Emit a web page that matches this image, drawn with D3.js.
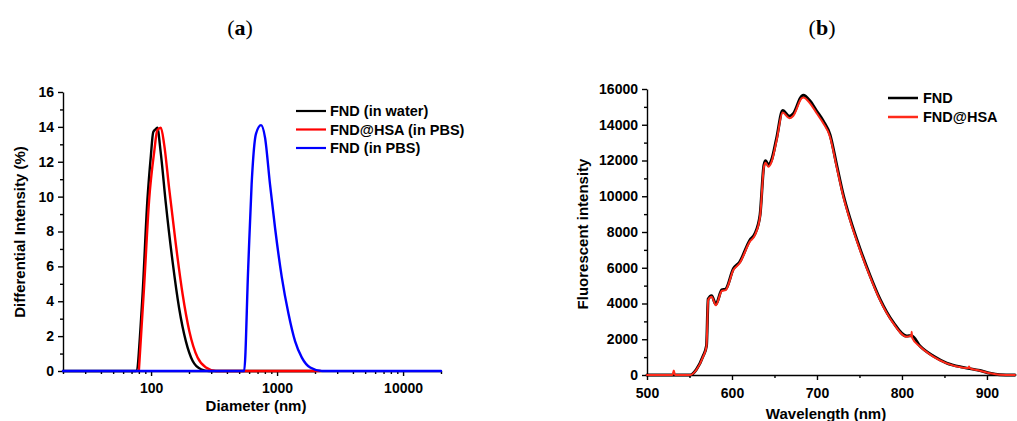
<!DOCTYPE html>
<html>
<head>
<meta charset="utf-8">
<script src="https://cdn.jsdelivr.net/npm/d3@7"></script>
<style>
  body { margin: 0; background: #fff; }
  svg { display: block; }
  .axis path, .axis line { stroke: #000; stroke-width: 1.4; }
  .axis text { font-family: "Liberation Sans", Arial, sans-serif; font-weight: bold; font-size: 14px; fill: #000; }
  .axis-label { font-family: "Liberation Sans", Arial, sans-serif; font-weight: bold; font-size: 15px; fill: #000; }
  .legend-label { font-family: "Liberation Sans", Arial, sans-serif; font-weight: bold; font-size: 14.5px; fill: #000; }
  .panel-title { font-family: "Liberation Serif", "Times New Roman", serif; font-size: 22px; fill: #000; }
  .curve { fill: none; stroke-linejoin: round; stroke-linecap: round; }
</style>
</head>
<body>
<svg id="chart" width="1017" height="421"></svg>
<script>
// ── (a) particle size distribution: [diameter nm, differential intensity %] ──
const fndWater = [
  [20, 0], [76, 0], [85, 4.0], [93.5, 9.8], [99.5, 12.3], [104, 13.7], [108, 13.85], [112, 13.95],
  [119, 12.6], [131, 9.6], [148, 6.3], [167, 3.6], [189, 1.7], [214, 0.57],
  [249, 0.1], [289, 0], [2000, 0]
];
const fndHsaPbs = [
  [80, 0], [88, 4.8], [96.5, 9.8], [106, 12.6], [112, 13.8], [119.5, 13.95],
  [127, 13.0], [139, 10.5], [157, 7.3], [178, 4.4], [201, 2.3], [234, 0.77],
  [273, 0.2], [327, 0], [2200, 0]
];
const fndPbs = [
  [20, 0], [548, 0], [590, 5.9], [628, 10.7], [680, 13.6], [746, 14.1], [802, 13.4],
  [879, 10.7], [964, 8.2], [1089, 5.4], [1231, 3.3], [1391, 1.7], [1573, 0.77],
  [1833, 0.2], [2270, 0], [20000, 0]
];
const aSeries = ['FND (in water)', 'FND@HSA (in PBS)', 'FND (in PBS)'];
const aColors = ['#000000', '#ff0000', '#0000ff'];
const aXTicks = [100, 1000, 10000];
const aYTicks = [0, 2, 4, 6, 8, 10, 12, 14, 16];

// ── (b) fluorescence spectra: [wavelength nm, intensity] ──
const fndSpec = [
  [500, 0], [530, 0], [551, 0], [558, 300], [566, 1060], [570, 1640], [572, 4250],
  [576, 4440], [581, 3960], [588, 4760], [592.6, 4810], [601.6, 5940], [609, 6320],
  [621, 7540], [627, 7910], [633, 8950], [637.6, 11750], [639.6, 11980], [642.7, 11750],
  [646.7, 12050], [652.6, 13270], [659.6, 14800], [667.5, 14480], [672, 14610],
  [682, 15600], [684, 15650], [691.8, 15330], [699.6, 14770], [707.4, 14210],
  [715.3, 13450], [723.1, 11760], [731, 10070], [738.8, 8760], [750.6, 7070],
  [762.4, 5570], [774, 4260], [789.8, 2940], [805.5, 2180], [811.4, 2200],
  [821.2, 1620], [836.8, 1060], [852.6, 670], [872.2, 425], [891.8, 250],
  [903.5, 100], [915, 20], [933, 0]
];
const fndHsaSpec = [
  [500, 0], [530, 0], [531.5, 250], [533, 0], [551, 0], [558, 280], [566, 1020],
  [570, 1600], [572, 4200], [576, 4380], [581, 3900], [588, 4700], [592.6, 4750],
  [601.6, 5875], [609, 6250], [621, 7460], [627, 7830], [633, 8860], [637.6, 11650],
  [639.6, 11880], [642.7, 11650], [646.7, 11940], [652.6, 13150], [659.6, 14680],
  [667.5, 14360], [672, 14490], [682, 15480], [684, 15530], [691.8, 15200],
  [699.6, 14640], [707.4, 14080], [715.3, 13330], [723.1, 11650], [731, 9970],
  [738.8, 8670], [750.6, 6990], [762.4, 5500], [774, 4200], [789.8, 2890],
  [805.5, 2140], [811, 2200], [811.4, 2420], [812, 2080], [821.2, 1590], [836.8, 1030],
  [852.6, 650], [872.2, 410], [878, 390], [879, 470], [880, 370], [891.8, 240],
  [903.5, 95], [915, 15], [933, 0]
];
const bSeries = ['FND', 'FND@HSA'];
const bColors = ['#000000', '#ff2a1a'];
const bXTicks = [500, 600, 700, 800, 900];
const bYTicks = [0, 2000, 4000, 6000, 8000, 10000, 12000, 14000, 16000];

const svg = d3.select('#chart');

// panel titles
svg.append('text').attr('class', 'panel-title').attr('x', 240).attr('y', 35)
  .attr('text-anchor', 'middle')
  .html('(<tspan font-weight="bold">a</tspan>)');
svg.append('text').attr('class', 'panel-title').attr('x', 822).attr('y', 35)
  .attr('text-anchor', 'middle')
  .html('(<tspan font-weight="bold">b</tspan>)');

// ── panel (a) ──
const xa = d3.scaleLog().domain([20, 20000]).range([63, 441]);
const ya = d3.scaleLinear().domain([0, 16]).range([371, 92]);

const ga = svg.append('g');

ga.append('g').attr('class', 'axis')
  .attr('transform', 'translate(0, 371)')
  .call(d3.axisBottom(xa).tickValues(xa.ticks().filter(v => !aXTicks.includes(v))).tickSize(3).tickFormat(''))
  .call(s => s.select('.domain').remove());
ga.append('g').attr('class', 'axis')
  .attr('transform', 'translate(0, 371)')
  .call(d3.axisBottom(xa).tickValues(aXTicks).tickSize(5).tickSizeOuter(0).tickPadding(7).tickFormat(d3.format('d')));

ga.append('g').attr('class', 'axis')
  .attr('transform', 'translate(63, 0)')
  .call(d3.axisLeft(ya).tickValues(d3.range(1, 16, 2)).tickSize(3).tickFormat(''))
  .call(s => s.select('.domain').remove());
ga.append('g').attr('class', 'axis')
  .attr('transform', 'translate(63, 0)')
  .call(d3.axisLeft(ya).tickValues(aYTicks).tickSize(5).tickSizeOuter(0).tickPadding(4));

const lineA = d3.line().x(d => xa(d[0])).y(d => ya(d[1])).curve(d3.curveMonotoneX);
[fndWater, fndHsaPbs, fndPbs].forEach((data, i) => {
  ga.append('path').datum(data).attr('class', 'curve')
    .attr('stroke', aColors[i]).attr('stroke-width', 2.4)
    .attr('d', lineA);
});

ga.append('text').attr('class', 'axis-label')
  .attr('x', 256).attr('y', 411).attr('text-anchor', 'middle')
  .text('Diameter (nm)');
ga.append('text').attr('class', 'axis-label')
  .attr('transform', 'translate(25, 232) rotate(-90)').attr('text-anchor', 'middle')
  .text('Differential Intensity (%)');

const legA = ga.append('g').attr('transform', 'translate(296, 111)');
aSeries.forEach((name, i) => {
  const row = legA.append('g').attr('transform', `translate(0, ${i * 18.5})`);
  row.append('line').attr('x1', 0).attr('x2', 30).attr('y1', 0).attr('y2', 0)
    .attr('stroke', aColors[i]).attr('stroke-width', 2.2);
  row.append('text').attr('class', 'legend-label').attr('x', 34).attr('y', 5).text(name);
});

// ── panel (b) ──
const xb = d3.scaleLinear().domain([500, 933]).range([647, 1015]);
const yb = d3.scaleLinear().domain([0, 16000]).range([375, 89]);

const gb = svg.append('g');

gb.append('g').attr('class', 'axis')
  .attr('transform', 'translate(0, 375)')
  .call(d3.axisBottom(xb).tickValues(d3.range(550, 933, 100)).tickSize(3).tickFormat(''))
  .call(s => s.select('.domain').remove());
gb.append('g').attr('class', 'axis')
  .attr('transform', 'translate(0, 375)')
  .call(d3.axisBottom(xb).tickValues(bXTicks).tickSize(5).tickSizeOuter(0).tickPadding(8));

gb.append('g').attr('class', 'axis')
  .attr('transform', 'translate(647, 0)')
  .call(d3.axisLeft(yb).tickValues(d3.range(1000, 16000, 2000)).tickSize(3).tickFormat(''))
  .call(s => s.select('.domain').remove());
gb.append('g').attr('class', 'axis')
  .attr('transform', 'translate(647, 0)')
  .call(d3.axisLeft(yb).tickValues(bYTicks).tickSize(5).tickSizeOuter(0).tickPadding(4).tickFormat(d3.format('d')));

const lineB = d3.line().x(d => xb(d[0])).y(d => yb(d[1])).curve(d3.curveMonotoneX);
gb.append('path').datum(fndSpec).attr('class', 'curve')
  .attr('stroke', bColors[0]).attr('stroke-width', 3).attr('d', lineB);
gb.append('path').datum(fndHsaSpec).attr('class', 'curve')
  .attr('stroke', bColors[1]).attr('stroke-width', 2).attr('d', lineB);

gb.append('text').attr('class', 'axis-label')
  .attr('x', 826).attr('y', 419).attr('text-anchor', 'middle')
  .text('Wavelength (nm)');
gb.append('text').attr('class', 'axis-label')
  .attr('transform', 'translate(588, 234) rotate(-90)').attr('text-anchor', 'middle')
  .text('Fluorescent intensity');

const legB = gb.append('g').attr('transform', 'translate(888, 98)');
bSeries.forEach((name, i) => {
  const row = legB.append('g').attr('transform', `translate(0, ${i * 19})`);
  row.append('line').attr('x1', 0).attr('x2', 30).attr('y1', 0).attr('y2', 0)
    .attr('stroke', bColors[i]).attr('stroke-width', 2.5);
  row.append('text').attr('class', 'legend-label').attr('x', 35).attr('y', 5).text(name);
});
</script>
</body>
</html>
